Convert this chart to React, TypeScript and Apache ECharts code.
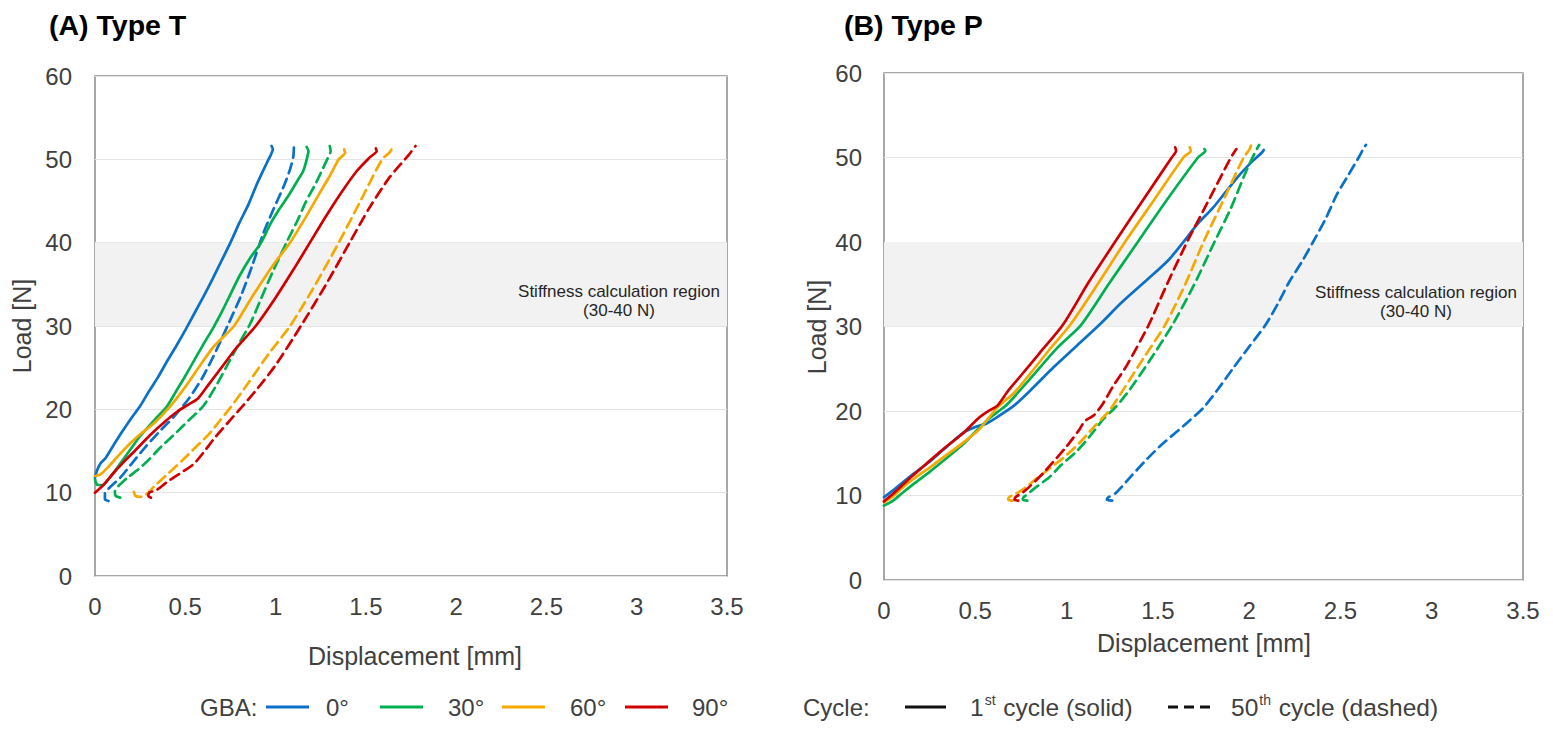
import React, { useEffect, useRef } from "react";
import * as echarts from "echarts";

const FONT = 'Arial, "Liberation Sans", Helvetica, sans-serif';

// Tick labels / axis ranges
const X_MIN = 0;
const X_MAX = 3.5;
const X_STEP = 0.5;
const Y_MIN = 0;
const Y_MAX = 60;
const Y_STEP = 10;
const BAND = [30, 40];

const ANGLES = ["0°", "30°", "60°", "90°"];
const COLORS = ["#0A70C8", "#00B050", "#F5A800", "#D00000"];

// ---------- (A) Type T ----------
const T0_first = [[0, 11.8], [0.01, 12.6], [0.03, 13.5], [0.06, 14.2], [0.1, 15.6], [0.15, 17.3], [0.2, 18.9], [0.25, 20.4], [0.3, 22.2], [0.35, 23.9], [0.4, 25.8], [0.45, 27.6], [0.5, 29.5], [0.55, 31.5], [0.6, 33.5], [0.65, 35.6], [0.7, 37.8], [0.75, 40], [0.8, 42.4], [0.85, 44.6], [0.9, 47.2], [0.95, 49.5], [0.975, 50.6], [0.985, 51.2], [0.978, 51.6]];
const T0_fiftieth = [[0.075, 9.0], [0.055, 9.2], [0.055, 9.9], [0.09, 10.8], [0.14, 11.8], [0.2, 13.4], [0.28, 15.5], [0.36, 17.4], [0.44, 19.2], [0.52, 21.3], [0.6, 24.0], [0.67, 27.0], [0.74, 30.3], [0.81, 33.7], [0.87, 37.2], [0.93, 41.0], [0.98, 43.6], [1.015, 45.3], [1.05, 47.0], [1.08, 48.8], [1.098, 50.3], [1.102, 51.7]];
const T30_first = [[0, 11.6], [0.01, 11.0], [0.04, 10.9], [0.07, 11.5], [0.1, 12.3], [0.15, 13.8], [0.2, 15.3], [0.25, 16.8], [0.3, 18.0], [0.35, 19.2], [0.4, 20.4], [0.45, 22.2], [0.5, 24.0], [0.55, 25.9], [0.6, 27.8], [0.65, 29.6], [0.7, 31.6], [0.75, 33.8], [0.8, 36.0], [0.86, 38.2], [0.92, 40], [0.97, 42.2], [1.02, 44.0], [1.07, 45.6], [1.12, 47.4], [1.153, 48.6], [1.175, 50.2], [1.182, 51.0], [1.172, 51.5]];
const T30_fiftieth = [[0.14, 9.4], [0.115, 9.6], [0.11, 10.1], [0.13, 10.8], [0.18, 11.8], [0.24, 12.8], [0.3, 14.0], [0.37, 15.6], [0.44, 17.0], [0.52, 18.7], [0.6, 20.4], [0.67, 22.8], [0.74, 25.6], [0.8, 28.0], [0.86, 30.3], [0.92, 33.3], [0.98, 36.3], [1.06, 40], [1.12, 42.6], [1.17, 45.0], [1.22, 47.0], [1.26, 48.8], [1.29, 50.2], [1.305, 51.0], [1.3, 51.6]];
const T60_first = [[0, 12.0], [0.03, 12.2], [0.07, 13.0], [0.12, 14.2], [0.18, 15.6], [0.25, 17.0], [0.33, 18.4], [0.41, 20.2], [0.5, 22.7], [0.58, 25.2], [0.66, 27.6], [0.77, 30], [0.85, 32.8], [0.93, 35.5], [1.0, 37.7], [1.08, 40], [1.16, 42.8], [1.24, 45.8], [1.3, 48.0], [1.35, 50.0], [1.385, 50.8], [1.38, 51.2]];
const T60_fiftieth = [[0.215, 10.1], [0.225, 9.6], [0.26, 9.5], [0.29, 9.9], [0.33, 10.8], [0.4, 12.2], [0.48, 13.8], [0.56, 15.5], [0.63, 17], [0.69, 18.6], [0.75, 20.2], [0.85, 23.2], [0.96, 26.6], [1.08, 30], [1.2, 34.2], [1.35, 40], [1.47, 45.0], [1.59, 50], [1.63, 50.8], [1.645, 51.4], [1.64, 51.6]];
const T90_first = [[0, 10.0], [0.05, 11.0], [0.1, 12.3], [0.16, 13.7], [0.22, 15.0], [0.3, 16.8], [0.38, 18.4], [0.46, 19.8], [0.52, 20.6], [0.57, 21.3], [0.63, 23.0], [0.7, 25.0], [0.78, 27.3], [0.89, 30], [1.0, 33.4], [1.1, 36.8], [1.19, 40], [1.28, 43.2], [1.37, 46.2], [1.45, 48.6], [1.52, 50.2], [1.56, 51.0], [1.555, 51.3]];
const T90_fiftieth = [[0.31, 9.4], [0.295, 9.6], [0.3, 10.0], [0.34, 10.3], [0.4, 11.3], [0.47, 12.3], [0.545, 13.4], [0.6, 14.8], [0.66, 16.5], [0.74, 18.5], [0.81, 20.2], [0.9, 22.5], [1.0, 25.3], [1.14, 30], [1.28, 35], [1.41, 40], [1.52, 44.2], [1.63, 47.8], [1.74, 50.6], [1.775, 51.6]];

// ---------- (B) Type P ----------
const P0_first = [[0, 9.8], [0.05, 10.6], [0.1, 11.5], [0.17, 12.7], [0.25, 14.0], [0.33, 15.5], [0.433, 17.4], [0.5, 18.1], [0.56, 18.5], [0.6, 19.0], [0.71, 20.6], [0.8, 22.4], [0.93, 25.2], [1.05, 27.6], [1.18, 30.2], [1.3, 32.8], [1.45, 35.7], [1.56, 37.9], [1.64, 40], [1.72, 42.2], [1.8, 44.0], [1.86, 45.6], [1.95, 48], [2.02, 49.6], [2.07, 50.6], [2.08, 50.9]];
const P0_fiftieth = [[1.25, 9.4], [1.22, 9.5], [1.23, 9.8], [1.27, 10.3], [1.35, 12.2], [1.44, 14.3], [1.52, 16.0], [1.59, 17.3], [1.67, 18.8], [1.75, 20.4], [1.83, 22.6], [1.91, 25], [2.0, 27.6], [2.09, 30.2], [2.16, 32.8], [2.22, 35.3], [2.29, 37.7], [2.35, 40], [2.42, 42.8], [2.48, 45.6], [2.54, 47.8], [2.6, 50], [2.63, 51.2], [2.64, 51.5]];
const P30_first = [[0, 8.8], [0.05, 9.4], [0.1, 10.3], [0.17, 11.5], [0.25, 12.8], [0.33, 14.2], [0.43, 16.0], [0.49, 17.3], [0.58, 19.2], [0.66, 20.5], [0.71, 21.6], [0.8, 23.8], [0.95, 27.5], [1.08, 30.2], [1.23, 35], [1.39, 40], [1.55, 45], [1.72, 50], [1.76, 50.8], [1.755, 51.0]];
const P30_fiftieth = [[0.785, 9.4], [0.76, 9.5], [0.765, 9.8], [0.79, 10.2], [0.816, 10.7], [0.907, 12.2], [0.97, 13.6], [1.054, 15.2], [1.127, 17.0], [1.2, 19.0], [1.27, 20.5], [1.345, 22.5], [1.45, 25.8], [1.58, 30.2], [1.7, 35], [1.81, 40], [1.9, 44], [1.98, 48.2], [2.03, 50.5], [2.055, 51.5]];
const P60_first = [[0, 9.2], [0.05, 9.9], [0.1, 10.9], [0.17, 12.1], [0.25, 13.3], [0.33, 14.6], [0.43, 16.2], [0.52, 17.8], [0.62, 20.4], [0.71, 22.1], [0.8, 24.4], [0.9, 27.1], [1.02, 30.2], [1.17, 35], [1.32, 40], [1.48, 45], [1.64, 50], [1.68, 50.8], [1.675, 51.2]];
const P60_fiftieth = [[0.705, 9.4], [0.68, 9.5], [0.685, 9.8], [0.72, 10.2], [0.76, 10.7], [0.835, 12.0], [0.907, 13.2], [0.99, 14.6], [1.07, 16.2], [1.145, 18.0], [1.236, 20.1], [1.31, 22.5], [1.42, 26.2], [1.54, 30.2], [1.65, 35], [1.75, 40], [1.86, 45], [1.97, 50], [2.0, 50.9], [2.01, 51.4]];
const P90_first = [[0, 9.3], [0.05, 10.2], [0.1, 11.2], [0.17, 12.6], [0.25, 14.1], [0.33, 15.6], [0.43, 17.3], [0.52, 19.2], [0.58, 20.1], [0.62, 20.6], [0.68, 22.4], [0.75, 24.2], [0.85, 26.8], [0.98, 30.2], [1.12, 35.2], [1.265, 40], [1.42, 45], [1.576, 50], [1.6, 50.8], [1.595, 51.2]];
const P90_fiftieth = [[0.735, 9.4], [0.715, 9.5], [0.72, 9.8], [0.75, 10.2], [0.78, 10.7], [0.87, 12.6], [0.944, 14.4], [1.0, 15.8], [1.07, 17.8], [1.1, 18.8], [1.15, 19.5], [1.2, 20.9], [1.254, 22.9], [1.33, 25.4], [1.45, 30.2], [1.55, 35], [1.66, 40], [1.78, 45], [1.9, 50], [1.93, 51]];

const PANEL_T_FIRST = [T0_first, T30_first, T60_first, T90_first];
const PANEL_T_FIFTIETH = [T0_fiftieth, T30_fiftieth, T60_fiftieth, T90_fiftieth];
const PANEL_P_FIRST = [P0_first, P30_first, P60_first, P90_first];
const PANEL_P_FIFTIETH = [P0_fiftieth, P30_fiftieth, P60_fiftieth, P90_fiftieth];

const TEXT_COLOR = "#404040";
const DASH = [10, 6];

function lineSeries(grid: number, name: string, data: number[][], color: string, dashed: boolean) {
  return {
    type: "line",
    name,
    xAxisIndex: grid,
    yAxisIndex: grid,
    data,
    showSymbol: false,
    symbol: "none",
    smooth: 0.25,
    z: 3,
    lineStyle: { color, width: 2.7, type: dashed ? DASH : "solid", cap: "round" },
  };
}

function bandSeries(grid: number) {
  return {
    type: "line",
    xAxisIndex: grid,
    yAxisIndex: grid,
    data: [],
    z: 1,
    markArea: {
      silent: true,
      itemStyle: { color: "#f2f2f2" },
      data: [[{ yAxis: BAND[0] }, { yAxis: BAND[1] }]],
    },
  };
}

function xAxis(grid: number) {
  return {
    type: "value",
    gridIndex: grid,
    min: X_MIN,
    max: X_MAX,
    interval: X_STEP,
    axisLine: { show: false },
    axisTick: { show: false },
    splitLine: { show: false },
    axisLabel: { color: TEXT_COLOR, fontSize: 24, fontFamily: FONT, margin: 18 },
  };
}

function yAxis(grid: number, margin: number) {
  return {
    type: "value",
    gridIndex: grid,
    min: Y_MIN,
    max: Y_MAX,
    interval: Y_STEP,
    axisLine: { show: false },
    axisTick: { show: false },
    splitLine: { show: true, lineStyle: { color: "#e4e4e4", width: 1 } },
    axisLabel: { color: TEXT_COLOR, fontSize: 24, fontFamily: FONT, margin },
  };
}

function txt(x: number, y: number, text: string, extra: any = {}) {
  return {
    type: "text",
    x,
    y,
    z: 100,
    style: {
      text,
      fill: TEXT_COLOR,
      font: `24px ${FONT}`,
      textAlign: "left",
      textVerticalAlign: "middle",
      ...extra,
    },
  };
}

function legendLine(x1: number, x2: number, y: number, color: string, dashed: boolean) {
  return {
    type: "line",
    z: 100,
    shape: { x1, y1: y, x2, y2: y },
    style: { stroke: color, lineWidth: 3, lineDash: dashed ? [10, 6] : null },
  };
}

function supText(x: number, y: number, base: string, sup: string, rest: string) {
  return {
    type: "text",
    x,
    y,
    z: 100,
    style: {
      text: `{a|${base}}{s|${sup}}{a|${rest}}`,
      textVerticalAlign: "middle",
      rich: {
        a: { fontSize: 24.5, fontFamily: FONT, fill: TEXT_COLOR, lineHeight: 28 },
        s: { fontSize: 14, fontFamily: FONT, fill: TEXT_COLOR, verticalAlign: "top", lineHeight: 28, padding: [0, 1, 12, 1] },
      },
    },
  };
}

export default function App() {
  const ref = useRef<HTMLDivElement>(null);

  useEffect(() => {
    if (!ref.current) return;
    const chart = echarts.init(ref.current, undefined, { renderer: "svg" });

    const series: any[] = [bandSeries(0), bandSeries(1)];
    ANGLES.forEach((a, i) => {
      series.push(lineSeries(0, `T ${a} 1st`, PANEL_T_FIRST[i], COLORS[i], false));
      series.push(lineSeries(0, `T ${a} 50th`, PANEL_T_FIFTIETH[i], COLORS[i], true));
      series.push(lineSeries(1, `P ${a} 1st`, PANEL_P_FIRST[i], COLORS[i], false));
      series.push(lineSeries(1, `P ${a} 50th`, PANEL_P_FIFTIETH[i], COLORS[i], true));
    });

    const LY = 707;
    const legendItems: any[] = [
      txt(200, LY, "GBA:"),
      legendLine(266, 309, LY, COLORS[0], false),
      txt(326, LY, "0°"),
      legendLine(380, 423, LY, COLORS[1], false),
      txt(448, LY, "30°"),
      legendLine(502, 545, LY, COLORS[2], false),
      txt(570, LY, "60°"),
      legendLine(625, 668, LY, COLORS[3], false),
      txt(692, LY, "90°"),
      txt(803, LY, "Cycle:"),
      legendLine(905, 946, LY, "#111", false),
      supText(970, LY, "1", "st", " cycle (solid)"),
      legendLine(1168, 1210, LY, "#111", true),
      supText(1231, LY, "50", "th", " cycle (dashed)"),
    ];

    const option: any = {
      animation: false,
      backgroundColor: "#ffffff",
      grid: [
        { left: 95, top: 76, width: 632, height: 500, show: true, borderColor: "#8c8c8c", borderWidth: 1.5, backgroundColor: "transparent" },
        { left: 884, top: 73, width: 639, height: 507, show: true, borderColor: "#8c8c8c", borderWidth: 1.5, backgroundColor: "transparent" },
      ],
      xAxis: [xAxis(0), xAxis(1)],
      yAxis: [yAxis(0, 23), yAxis(1, 22)],
      series,
      graphic: [
        txt(49, 25, "(A) Type T", { font: `bold 28.5px ${FONT}`, fill: "#000" }),
        txt(844, 25, "(B) Type P", { font: `bold 28.5px ${FONT}`, fill: "#000" }),
        txt(415, 656, "Displacement [mm]", { font: `25px ${FONT}`, textAlign: "center" }),
        txt(1204, 643, "Displacement [mm]", { font: `25px ${FONT}`, textAlign: "center" }),
        { ...txt(22, 326, "Load [N]", { font: `25px ${FONT}`, textAlign: "center" }), rotation: Math.PI / 2 },
        { ...txt(817, 327, "Load [N]", { font: `25px ${FONT}`, textAlign: "center" }), rotation: Math.PI / 2 },
        txt(619, 301, "Stiffness calculation region\n(30-40 N)", { font: `17px ${FONT}`, textAlign: "center", fill: "#262626", lineHeight: 19 }),
        txt(1416, 302, "Stiffness calculation region\n(30-40 N)", { font: `17px ${FONT}`, textAlign: "center", fill: "#262626", lineHeight: 19 }),
        ...legendItems,
      ],
    };

    chart.setOption(option);
    return () => chart.dispose();
  }, []);

  return (
    <div
      ref={ref}
      style={{ position: "absolute", left: 0, top: 0, width: 1553, height: 738, background: "#fff" }}
    />
  );
}
